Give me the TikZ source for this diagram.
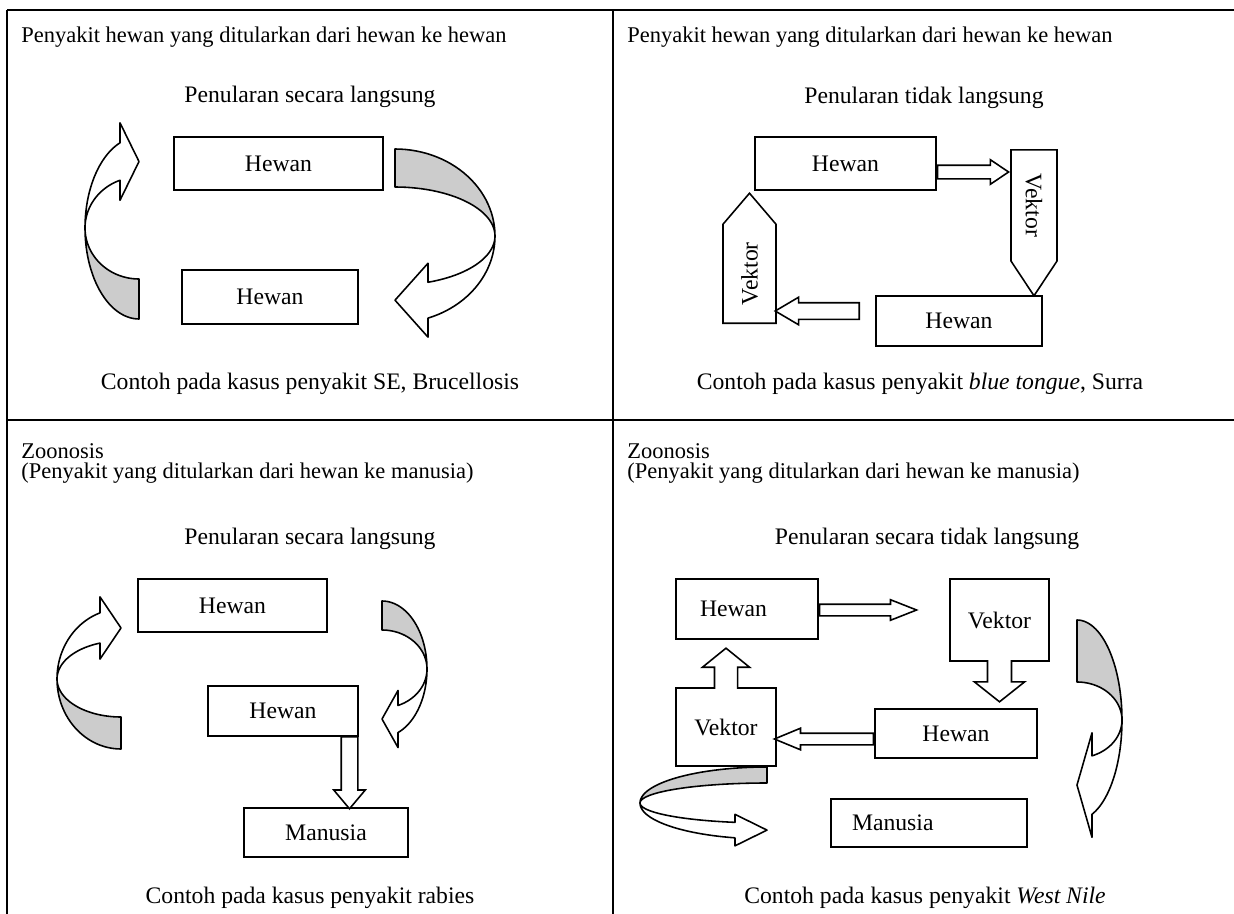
\documentclass[tikz,border=0pt]{standalone}
\usepackage{fontspec}
\setmainfont{Liberation Serif}
\usetikzlibrary{shapes.arrows, positioning}
\newlength\px
\setlength\px{0.507pt}
\definecolor{backgray}{gray}{0.8}
\tikzstyle{box} = [
    rectangle,
    draw=black,
    line width=0.8pt,
    inner sep=0pt
]
\tikzstyle{lbox} = [
    box,
    align=left
]
\tikzstyle{header} = [
    anchor=west,
    inner sep=0pt,
    font=\fontsize{11.4}{13}\selectfont
]
\tikzstyle{blockarrow} = [
    single arrow,
    draw=black,
    line width=0.8pt,
    fill=white,
    inner xsep=0pt
]
\tikzstyle{vektorarrow} = [
    single arrow,
    single arrow head extend=0pt,
    draw=black,
    line width=0.8pt,
    inner sep=0pt
]
\tikzstyle{callout} = [
    arrow box,
    draw=black,
    line width=0.8pt,
    inner sep=0pt
]
\tikzstyle{rib} = [draw=black, line width=0.8pt, line join=round]
\tikzstyle{tableline} = [line width=1.1pt]

% curved ribbon arrow: placement, x radius, outer, inner, head base, barb
\newcommand{\ribbon}[6]{%
  \begin{scope}[#1]
    \pgfmathsetmacro{\rbang}{180+acos(#5/#2)}
    \pgfmathsetmacro{\rbyo}{#3*sin(\rbang)}
    \pgfmathsetmacro{\rbyi}{#4*sin(\rbang)}
    \filldraw[rib, fill=backgray]
      plot[domain=90:180, samples=30] ({#2*cos(\x)}, {#3*sin(\x)})
      -- plot[domain=180:90, samples=30] ({#2*cos(\x)}, {#4*sin(\x)}) -- cycle;
    \filldraw[rib, fill=white]
      plot[domain=180:\rbang, samples=30] ({#2*cos(\x)}, {#3*sin(\x)})
      -- (-#5, \rbyo-#6) -- (0, {(\rbyo+\rbyi)/2}) -- (-#5, \rbyi+#6)
      -- plot[domain=\rbang:180, samples=30] ({#2*cos(\x)}, {#4*sin(\x)}) -- cycle;
  \end{scope}}

\begin{document}
\begin{tikzpicture}[x=0.507pt, y=-0.507pt,
    every node/.style={font=\fontsize{12}{14}\selectfont}]

\useasboundingbox (0,0) rectangle (1234,914);

% table
\draw [tableline] (7,10) -- (1234,10);
\draw [tableline] (7,420) -- (1234,420);
\draw [tableline] (7,10) -- (7,914);
\draw [tableline] (613,10) -- (613,914);

% hewan ke hewan, langsung
\node (t1) [header] at (21,37) {Penyakit hewan yang ditularkan dari hewan ke hewan};
\node (s1) at (310,97) {Penularan secara langsung};

\ribbon{shift={(139,228)}}{54}{91}{51}{19}{20}
\ribbon{shift={(395,236)}, rotate=180}{100}{87}{49}{33}{19}

\node (h1a) [box, minimum width=209\px, minimum height=53\px] at (278.5,163.5) {Hewan};
\node (h1b) [box, minimum width=176\px, minimum height=54\px] at (270,297) {Hewan};

\node (c1) at (310,384) {Contoh pada kasus penyakit SE, Brucellosis};

% hewan ke hewan, tidak langsung
\node (t2) [header] at (627,37) {Penyakit hewan yang ditularkan dari hewan ke hewan};
\node (s2) at (924,98) {Penularan tidak langsung};

\node (h2a) [box, minimum width=181\px, minimum height=53\px] at (845.5,163.5) {Hewan};
\node (h2b) [box, minimum width=166\px, minimum height=50\px] at (959,321) {Hewan};

\node (v2a) [vektorarrow, rotate=-90, anchor=tail, minimum height=146\px,
    minimum width=46\px, single arrow tip angle=67] at (1034,149) {Vektor};
\node (v2b) [vektorarrow, rotate=90, anchor=tail, minimum height=130\px,
    minimum width=53\px, single arrow tip angle=81] at (749.5,324) {Vektor};

\node (a2a) [blockarrow, anchor=tail, minimum height=71\px, inner ysep=6\px,
    single arrow head extend=5.5\px, single arrow tip angle=68] at (h2a.east |- 0,172) {};
\node (a2b) [blockarrow, rotate=180, anchor=tail, minimum height=84\px, inner ysep=7.5\px,
    single arrow head extend=5.5\px, single arrow tip angle=61] at (860,311) {};

\node (c2) at (920,384) {Contoh pada kasus penyakit \textit{blue tongue}, Surra};

% zoonosis, langsung
\node (z3) [header] at (21,451) {Zoonosis};
\node (p3) [header, below=4\px of z3.south west, anchor=north west] {(Penyakit yang ditularkan dari hewan ke manusia)};
\node (s3) at (310,539) {Penularan secara langsung};

\ribbon{shift={(121,679)}}{64}{70}{38}{21}{16}
\ribbon{shift={(382,669)}, rotate=180}{45}{68}{39}{16}{15}

\node (h3a) [box, minimum width=189\px, minimum height=53\px] at (232.5,605.5) {Hewan};
\node (h3b) [box, minimum width=150\px, minimum height=50\px] at (283,711) {Hewan};
\node (m3) [box, minimum width=164\px, minimum height=49\px] at (326,832.5) {Manusia};

\node (a3) [blockarrow, rotate=-90, anchor=tail, minimum height=72\px, inner ysep=7.5\px,
    single arrow head extend=7.5\px, single arrow tip angle=80] at (349.5,736) {};

\node (c3) at (310,898) {Contoh pada kasus penyakit rabies};

% zoonosis, tidak langsung
\node (z4) [header] at (627,451) {Zoonosis};
\node (p4) [header, below=4\px of z4.south west, anchor=north west] {(Penyakit yang ditularkan dari hewan ke manusia)};
\node (s4) at (927,539) {Penularan secara tidak langsung};

\ribbon{shift={(1077,720)}, rotate=180}{45}{100}{38}{15}{23}
\ribbon{shift={(767,803)}, yscale=-1}{127}{36}{20}{32}{8}

\node (h4a) [lbox, text width=94\px, inner xsep=24\px, minimum height=60\px] at (747,609) {Hewan};
\node (v4a) [callout, minimum width=99\px, minimum height=82\px, arrow box arrows={south:20.3pt},
    arrow box shaft width=12.2pt, arrow box head extend=6.6pt, arrow box tip angle=103] at (999.5,620) {Vektor};
\node (h4b) [box, minimum width=162\px, minimum height=49\px] at (956,733.5) {Hewan};
\node (v4b) [callout, minimum width=100\px, minimum height=78\px, arrow box arrows={north:19.8pt},
    arrow box shaft width=11.7pt, arrow box head extend=6.1pt, arrow box tip angle=102] at (726,727) {Vektor};
\node (m4) [lbox, text width=154\px, inner xsep=21\px, minimum height=48\px] at (929,823) {Manusia};

\node (a4a) [blockarrow, anchor=tail, minimum height=97\px, inner ysep=5\px,
    single arrow head extend=4.5\px, single arrow tip angle=43] at (h4a.east |- 0,610) {};
\node (a4b) [blockarrow, rotate=180, anchor=tail, minimum height=99\px, inner ysep=5\px,
    single arrow head extend=5\px, single arrow tip angle=45] at (h4b.west |- 0,739) {};

\node (c4) at (925,898) {Contoh pada kasus penyakit \textit{West Nile}};

\end{tikzpicture}
\end{document}
